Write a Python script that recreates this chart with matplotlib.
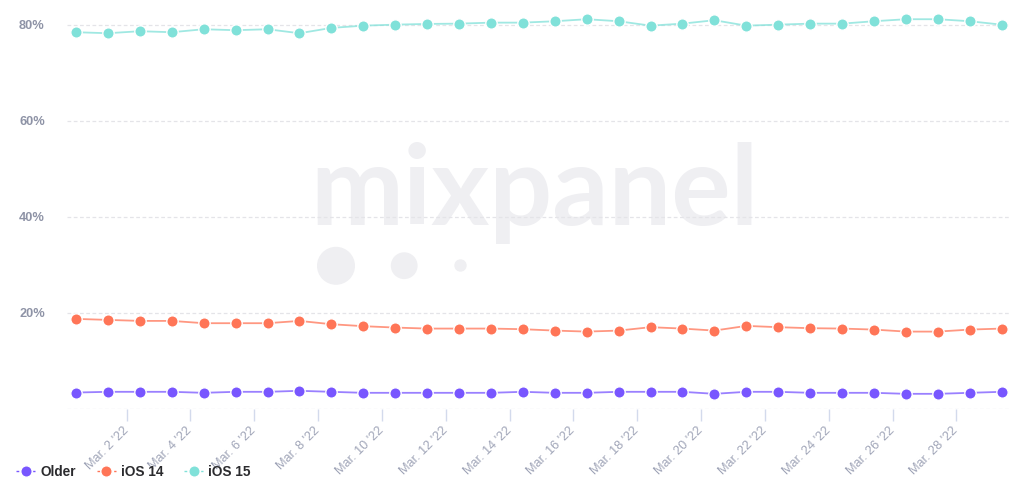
import matplotlib
matplotlib.use("Agg")
import matplotlib.pyplot as plt
import matplotlib.dates as mdates
from matplotlib.lines import Line2D
from matplotlib.patches import Circle
import pandas as pd

# ---- data ----
dates = ["2022-02-28", "2022-03-01", "2022-03-02", "2022-03-03", "2022-03-04",
         "2022-03-05", "2022-03-06", "2022-03-07", "2022-03-08", "2022-03-09",
         "2022-03-10", "2022-03-11", "2022-03-12", "2022-03-13", "2022-03-14",
         "2022-03-15", "2022-03-16", "2022-03-17", "2022-03-18", "2022-03-19",
         "2022-03-20", "2022-03-21", "2022-03-22", "2022-03-23", "2022-03-24",
         "2022-03-25", "2022-03-26", "2022-03-27", "2022-03-28", "2022-03-29"]

older = [3.33, 3.48, 3.48, 3.48, 3.27, 3.48, 3.48, 3.69, 3.48, 3.27,
         3.27, 3.27, 3.27, 3.27, 3.48, 3.27, 3.27, 3.48, 3.48, 3.48,
         3.06, 3.48, 3.48, 3.27, 3.27, 3.27, 3.06, 3.06, 3.27, 3.48]

ios14 = [18.69, 18.48, 18.27, 18.27, 17.79, 17.79, 17.79, 18.27, 17.58, 17.17,
         16.88, 16.67, 16.67, 16.67, 16.54, 16.25, 16.04, 16.25, 16.96, 16.67,
         16.25, 17.23, 16.96, 16.75, 16.67, 16.46, 16.04, 16.04, 16.46, 16.67]

ios15 = [78.48, 78.27, 78.69, 78.48, 79.10, 78.90, 79.10, 78.27, 79.38, 79.85,
         80.06, 80.21, 80.27, 80.48, 80.48, 80.77, 81.19, 80.77, 79.85, 80.27,
         80.98, 79.85, 80.06, 80.27, 80.27, 80.77, 81.19, 81.19, 80.77, 80.06]

series_names = ["Older", "iOS 14", "iOS 15"]
series_colors = ["#7856FF", "#FF7557", "#80E1D9"]
y_ticks = [20, 40, 60, 80]
y_tick_labels = ["20%", "40%", "60%", "80%"]

# ---- figure ----
W, H = 1024, 490
fig = plt.figure(figsize=(W / 100, H / 100), dpi=100)
fig.patch.set_facecolor("white")

# watermark layer (pixel coordinates)
bg = fig.add_axes([0, 0, 1, 1], zorder=-1)
bg.set_xlim(0, W)
bg.set_ylim(H, 0)
bg.axis("off")
wm_color = "#EFEFF2"
bg.text(534, 225, "mixpanel", fontsize=80, family="Lato", fontweight="bold",
        color=wm_color, ha="center", va="baseline")
for cx, cy, r in [(336, 265.8, 19), (404.2, 265.7, 13.4), (460.5, 265.5, 6.2)]:
    bg.add_patch(Circle((cx, cy), r, color=wm_color, lw=0))

left, right = 67 / W, 1010 / W
bottom, top = 1 - 408.5 / H, 1.0
ax = fig.add_axes([left, bottom, right - left, top - bottom], zorder=0)
ax.patch.set_alpha(0)

x = pd.to_datetime(dates) + pd.Timedelta(hours=10)

for vals, name, col in zip([older, ios14, ios15], series_names, series_colors):
    ax.plot(x, vals, color=col, lw=1.3, alpha=0.75, zorder=2)
    ax.plot(x, vals, linestyle="none", marker="o", markersize=8.2,
            markerfacecolor=col, markeredgecolor="white", markeredgewidth=1.0,
            zorder=3, label=name)

ax.set_ylim(0, 85.2)
ax.set_xlim(x[0] - pd.Timedelta(hours=6.8), x[-1] + pd.Timedelta(hours=6.3))

ax.set_yticks([0] + y_ticks)
ax.set_yticklabels([""] + y_tick_labels)
ax.yaxis.grid(True, color="#E4E4E8", lw=0.9, linestyle=(0, (3, 2)))
ax.set_axisbelow(True)
ax.tick_params(axis="y", length=0, pad=16, labelsize=9.2, labelcolor="#8E93A6")
for lab in ax.get_yticklabels():
    lab.set_fontweight("bold")
    lab.set_family("Liberation Sans")

ax.xaxis.set_major_locator(mdates.DayLocator(bymonthday=list(range(2, 30, 2))))
ax.xaxis.set_major_formatter(plt.FuncFormatter(
    lambda v, p: "Mar. %d '22" % mdates.num2date(v).day))
ax.tick_params(axis="x", direction="out", length=8.5, width=1, color="#D3DAEC",
               pad=6, labelsize=9.2, labelcolor="#A0A5B8")
for lab in ax.get_xticklabels():
    lab.set_rotation(45)
    lab.set_ha("right")
    lab.set_va("center")
    lab.set_rotation_mode("anchor")
    lab.set_family("Liberation Sans")

for s in ax.spines.values():
    s.set_visible(False)

handles = [Line2D([0], [0], color=c, lw=1, linestyle=(0, (2, 2)), marker="o",
                  markersize=8.2, markerfacecolor=c, markeredgecolor="white",
                  markeredgewidth=1.0) for c in series_colors]
leg = fig.legend(handles, series_names, loc="center left",
                 bbox_to_anchor=(0.004, 1 - 471.7 / H), ncol=3, frameon=False,
                 handlelength=1.4, handletextpad=0.35, columnspacing=1.55,
                 prop={"family": "Liberation Sans", "weight": "bold", "size": 9.8})
for t in leg.get_texts():
    t.set_color("#2B2B2E")

fig.savefig("out.png", dpi=100, facecolor="white")
